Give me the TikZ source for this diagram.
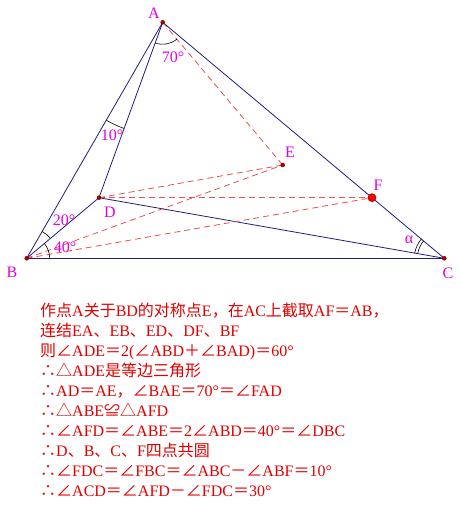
\documentclass[tikz,border=0pt]{standalone}
\usepackage{fontspec}
\setmainfont{Liberation Serif}
\newfontfamily\cjk{Noto Sans CJK SC}
\usetikzlibrary{angles}
\definecolor{navyline}{RGB}{30,30,125}
\definecolor{lblmag}{RGB}{225,0,225}
\definecolor{txtred}{RGB}{225,0,0}
\definecolor{dashred}{RGB}{230,80,80}
\definecolor{dotred}{RGB}{170,0,0}

\begin{document}
\begin{tikzpicture}[x=1pt,y=1pt,
    side/.style={navyline,line width=0.8pt},
    aux/.style={dashred,line width=0.8pt,dash pattern=on 6pt off 4pt},
    lab/.style={lblmag,font=\fontsize{16}{16}\selectfont,inner sep=0pt},
    angarc/.style={draw,black,line width=0.6pt},
    txt/.style={txtred,font=\fontsize{16}{20}\selectfont,inner sep=0pt,align=left}]
    \useasboundingbox (0,0) rectangle (460,508);
    % points
    \coordinate (A) at (162.7,485.7);
    \coordinate (B) at (26.7,249.7);
    \coordinate (C) at (444.3,249.7);
    \coordinate (D) at (99,310.3);
    \coordinate (E) at (282.7,343);
    \coordinate (F) at (372,310.3);
    % sides
    \draw[side] (A)--(B);
    \draw[side] (A)--(C);
    \draw[side] (A)--(D);
    \draw[side] (B)--(D);
    \draw[side] (D)--(C);
    \draw[navyline,line width=1.2pt] (B)--(C);
    % auxiliary lines
    \draw[aux] (A)--(E);
    \draw[aux] (D)--(E);
    \draw[aux] (B)--(E);
    \draw[aux] (D)--(F);
    \draw[aux] (B)--(F);
    % angle marks
    \pic[angarc,angle radius=22pt] {angle=D--A--E};
    \pic[angarc,angle radius=113pt] {angle=B--A--D};
    \pic[angarc,angle radius=31pt] {angle=D--B--A};
    \pic[angarc,angle radius=23pt] {angle=C--B--D};
    \pic[angarc,angle radius=27pt] {angle=A--C--D};
    \pic[angarc,angle radius=30pt] {angle=A--C--D};
    % dots
    \foreach \p in {A,B,C,D,E}
        \filldraw[fill=dotred,draw=dotred!70!black,line width=0.4pt] (\p) circle (2pt);
    \filldraw[fill=red,draw=dotred,line width=0.6pt] (F) circle (4pt);
    % labels
    \node[lab] (lA) at (154,495) {A};
    \node[lab] (lB) at (12,236) {B};
    \node[lab] (lC) at (448,235) {C};
    \node[lab] (lD) at (110,296) {D};
    \node[lab] (lE) at (290,356) {E};
    \node[lab] (lF) at (378,323) {F};
    \node[lab] (a70) at (173,451) {70°};
    \node[lab] (a10) at (112,373) {10°};
    \node[lab] (a20) at (64,288) {20°};
    \node[lab] (a40) at (65,261) {40°};
    \node[lab] (alpha) at (409,268) {α};
    % proof
    \node[txt,anchor=north west] (proof) at (40,205) {%
        {\cjk 作点}A{\cjk 关于}BD{\cjk 的对称点}E{\cjk ，在}AC{\cjk 上截取}AF{\cjk ＝}AB{\cjk ，}\\
        {\cjk 连结}EA{\cjk 、}EB{\cjk 、}ED{\cjk 、}DF{\cjk 、}BF\\
        {\cjk 则∠}ADE{\cjk ＝}2({\cjk ∠}ABD{\cjk ＋∠}BAD){\cjk ＝}60°\\
        {\cjk ∴△}ADE{\cjk 是等边三角形}\\
        {\cjk ∴}AD{\cjk ＝}AE{\cjk ，∠}BAE{\cjk ＝}70°{\cjk ＝∠}FAD\\
        {\cjk ∴△}ABE{\cjk ≌△}AFD\\
        {\cjk ∴∠}AFD{\cjk ＝∠}ABE{\cjk ＝}2{\cjk ∠}ABD{\cjk ＝}40°{\cjk ＝∠}DBC\\
        {\cjk ∴}D{\cjk 、}B{\cjk 、}C{\cjk 、}F{\cjk 四点共圆}\\
        {\cjk ∴∠}FDC{\cjk ＝∠}FBC{\cjk ＝∠}ABC{\cjk －∠}ABF{\cjk ＝}10°\\
        {\cjk ∴∠}ACD{\cjk ＝∠}AFD{\cjk －∠}FDC{\cjk ＝}30°};
\end{tikzpicture}
\end{document}
